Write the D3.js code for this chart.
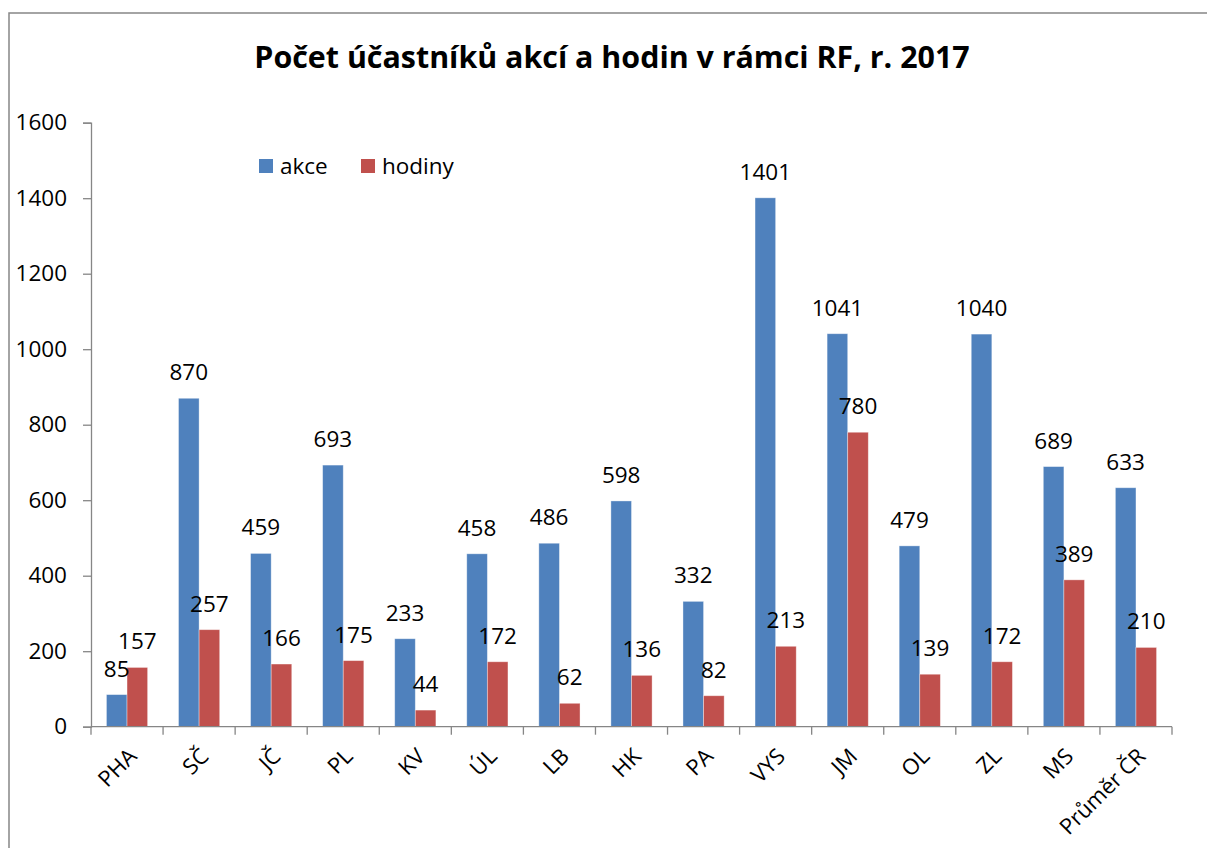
<!DOCTYPE html>
<html>
<head>
<meta charset="utf-8">
<script src="https://cdnjs.cloudflare.com/ajax/libs/d3/7.8.5/d3.min.js"></script>
<style>
    body { margin: 0; background: #fff; }
    text { font-family: "Open Sans", sans-serif; fill: #000; }
</style>
</head>
<body>
<div id="chart"></div>
<script>
const regions = ['PHA','SČ','JČ','PL','KV','ÚL','LB','HK','PA','VYS','JM','OL','ZL','MS','Průměr ČR'];
const akce = [85,870,459,693,233,458,486,598,332,1401,1041,479,1040,689,633];
const hodiny = [157,257,166,175,44,172,62,136,82,213,780,139,172,389,210];
const series_names = ['akce','hodiny'];
const series_colors = ['#4F81BD','#C0504D'];
const y_ticks = [0,200,400,600,800,1000,1200,1400,1600];
const title_text = 'Počet účastníků akcí a hodin v rámci RF, r. 2017';

function draw_chart(){
    let width = 1207, height = 848;
    let svg = d3.select('#chart').append('svg')
        .attr('width', width)
        .attr('height', height);

    // outer frame (right and bottom edges run off the picture)
    svg.append('rect')
        .attr('x', 9).attr('y', 13)
        .attr('width', 1220).attr('height', 860)
        .attr('fill', 'none')
        .attr('stroke', '#878787')
        .attr('stroke-width', 1.5);

    svg.append('text')
        .attr('x', 612).attr('y', 68)
        .attr('text-anchor', 'middle')
        .style('font-size', '30.4px')
        .style('font-weight', 'bold')
        .text(title_text);

    let x = d3.scaleBand()
        .domain(regions)
        .range([91, 1172])
        .padding(0);
    let xs = d3.scaleBand()
        .domain(series_names)
        .range([0, x.bandwidth()])
        .paddingInner(0)
        .paddingOuter(0.75);
    let y = d3.scaleLinear()
        .domain([0, 1600])
        .range([726.7, 122.7]);

    let rows = regions.map((r,i)=>({region: r, values: [akce[i], hodiny[i]]}));

    let groups = svg.selectAll('.grp')
        .data(rows)
        .enter().append('g')
        .attr('class','grp')
        .attr('transform', d=>`translate(${x(d.region)},0)`);

    groups.selectAll('rect')
        .data(d=>d.values.map((v,k)=>({name: series_names[k], value: v, k: k})))
        .enter().append('rect')
        .attr('x', d=>xs(d.name))
        .attr('y', d=>y(d.value))
        .attr('width', xs.bandwidth())
        .attr('height', d=>y(0)-y(d.value))
        .attr('fill', d=>series_colors[d.k])
        .attr('stroke', 'rgba(255,255,255,0.45)')
        .attr('stroke-width', 0.8);

    groups.selectAll('.lbl')
        .data(d=>d.values.map((v,k)=>({name: series_names[k], value: v, k: k})))
        .enter().append('text')
        .attr('class','lbl')
        .attr('x', d=>xs(d.name) + xs.bandwidth()/2)
        .attr('y', d=>y(d.value) - 18)
        .attr('text-anchor','middle')
        .style('font-size','22.5px')
        .text(d=>d.value);

    // y axis
    let yAxis = svg.append('g')
        .attr('transform','translate(91,0)')
        .call(d3.axisLeft(y).tickValues(y_ticks).tickSize(8).tickPadding(16).tickFormat(d3.format('d')));
    yAxis.selectAll('text').style('font-size','22.5px').style('font-family','"Open Sans", sans-serif');

    // x axis with ticks at category boundaries
    let xAxis = svg.append('g').attr('transform', `translate(0,${y(0)})`);
    xAxis.append('line')
        .attr('x1', 91).attr('x2', 1172)
        .attr('stroke', '#868686').attr('stroke-width', 1.3);
    xAxis.selectAll('.xt')
        .data(regions.concat(['end']))
        .enter().append('line')
        .attr('class','xt')
        .attr('x1', (d,i)=> i < regions.length ? x(d) : x.range()[1])
        .attr('x2', (d,i)=> i < regions.length ? x(d) : x.range()[1])
        .attr('y1', 0).attr('y2', 8)
        .attr('stroke', '#868686').attr('stroke-width', 1.3);
    xAxis.selectAll('.xl')
        .data(regions)
        .enter().append('text')
        .attr('class','xl')
        .attr('text-anchor','end')
        .attr('transform', d=>`translate(${x(d)+x.bandwidth()/2+11},${31}) rotate(-45)`)
        .style('font-size','22px')
        .text(d=>d);

    yAxis.select('.domain').attr('stroke','#868686').attr('stroke-width',1.3);
    yAxis.selectAll('.tick line').attr('stroke','#868686').attr('stroke-width',1.3);

    // legend
    let legend = svg.append('g');
    let legend_x = [259, 361];
    series_names.forEach((s,k)=>{
        legend.append('rect')
            .attr('x', legend_x[k]).attr('y', 159)
            .attr('width', 14).attr('height', 14)
            .attr('fill', series_colors[k]);
        legend.append('text')
            .attr('x', legend_x[k] + 21).attr('y', 174)
            .style('font-size','22.5px')
            .text(s);
    });
}

draw_chart();
</script>
</body>
</html>
